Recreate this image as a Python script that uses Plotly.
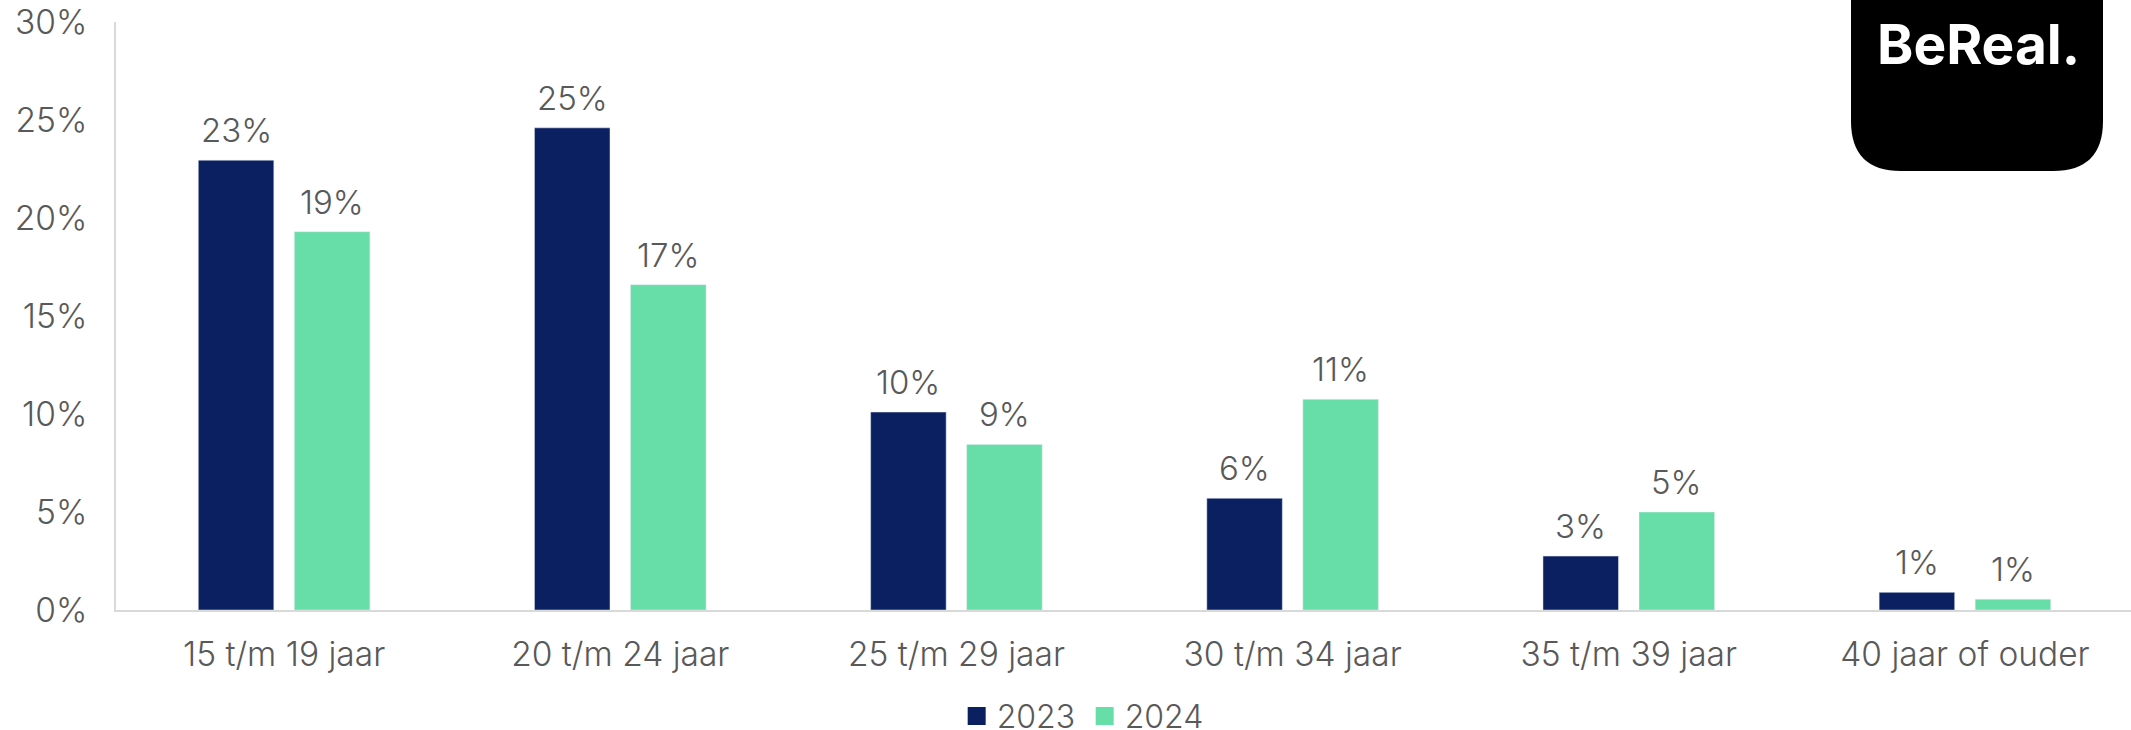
import plotly.graph_objects as go

categories = ["15 t/m 19 jaar", "20 t/m 24 jaar", "25 t/m 29 jaar",
              "30 t/m 34 jaar", "35 t/m 39 jaar", "40 jaar of ouder"]
values_2023 = [22.95, 24.6, 10.1, 5.7, 2.75, 0.9]
values_2024 = [19.3, 16.6, 8.45, 10.75, 5.0, 0.55]
labels_2023 = ["23%", "25%", "10%", "6%", "3%", "1%"]
labels_2024 = ["19%", "17%", "9%", "11%", "5%", "1%"]
y_ticks = [0, 5, 10, 15, 20, 25, 30]
y_tick_labels = ["0%", "5%", "10%", "15%", "20%", "25%", "30%"]

NAVY = "#0B2060"
GREEN = "#67DDA7"
GREY = "#595959"
FONT = "Inter"
W, H = 2131, 730
L, T, B = 116, 22, 120
label_font = dict(family=FONT, size=33, color=GREY, weight=300)
tick_font = dict(family=FONT, size=33.5, color=GREY, weight=300)

fig = go.Figure()

# bars
fig.add_trace(go.Bar(x=categories, y=values_2023, marker_color=NAVY, showlegend=False))
fig.add_trace(go.Bar(x=categories, y=values_2024, marker_color=GREEN, showlegend=False))

# empty traces so the legend squares can be bigger than the bar default
for name, col in [("2023", NAVY), ("2024", GREEN)]:
    fig.add_trace(go.Scatter(
        x=[None], y=[None], name=name, mode="markers",
        marker=dict(symbol="square", size=16, color=col, line=dict(color=col, width=2)),
    ))

# data labels, sit higher above the bars than textposition outside allows
for cat, v23, v24, l23, l24 in zip(categories, values_2023, values_2024, labels_2023, labels_2024):
    for v, l, dx in [(v23, l23, -48), (v24, l24, 48)]:
        fig.add_annotation(x=cat, y=v, text=l, showarrow=False, xshift=dx, yshift=30,
                           yanchor="middle", font=label_font)

# logo, paper coords are relative to the plot area so convert from pixels
def px(x): return (x - L) / (W - L)
def py(y): return (H - B - y) / (H - B - T)
x0, x1, y1, r = 1851, 2103, 171, 50
logo_path = (f"M {px(x0)} {py(0)} L {px(x1)} {py(0)} L {px(x1)} {py(y1 - r)} "
             f"Q {px(x1)} {py(y1)} {px(x1 - r)} {py(y1)} L {px(x0 + r)} {py(y1)} "
             f"Q {px(x0)} {py(y1)} {px(x0)} {py(y1 - r)} Z")
fig.add_shape(type="path", path=logo_path, xref="paper", yref="paper",
              fillcolor="black", line_width=0, layer="above")
fig.add_annotation(x=px(1978), y=py(44), xref="paper", yref="paper", text="<b>BeReal.</b>",
                   showarrow=False, xanchor="center", yanchor="middle",
                   font=dict(family=FONT, size=55, color="white"))

fig.update_layout(
    width=W, height=H,
    margin=dict(l=L, r=0, t=T, b=B, pad=0),
    paper_bgcolor="white", plot_bgcolor="white",
    barmode="group", bargap=0.4286, bargroupgap=0.2135,
    font=label_font,
    legend=dict(orientation="h", x=0.509, xanchor="center", xref="container",
                y=0.019, yanchor="middle", yref="container",
                font=dict(family=FONT, size=32, color=GREY, weight=300),
                itemwidth=30, tracegroupgap=0, entrywidth=83, entrywidthmode="pixels"),
)
fig.update_xaxes(type="category", categoryorder="array", categoryarray=categories,
                 range=[-0.5, 5.494],
                 showgrid=False, showline=True, linecolor="#D9D9D9", linewidth=2,
                 ticks="", ticklabelstandoff=14, tickfont=tick_font)
fig.update_yaxes(range=[0, 30], tickvals=y_ticks, ticktext=y_tick_labels,
                 showgrid=False, zeroline=False, showline=True, linecolor="#D9D9D9", linewidth=2,
                 ticks="", ticklabelstandoff=20, tickfont=tick_font)

fig.write_html("out.html", config=dict(displayModeBar=False),
               post_script="document.body.style.margin='0';document.body.style.overflow='hidden';")
